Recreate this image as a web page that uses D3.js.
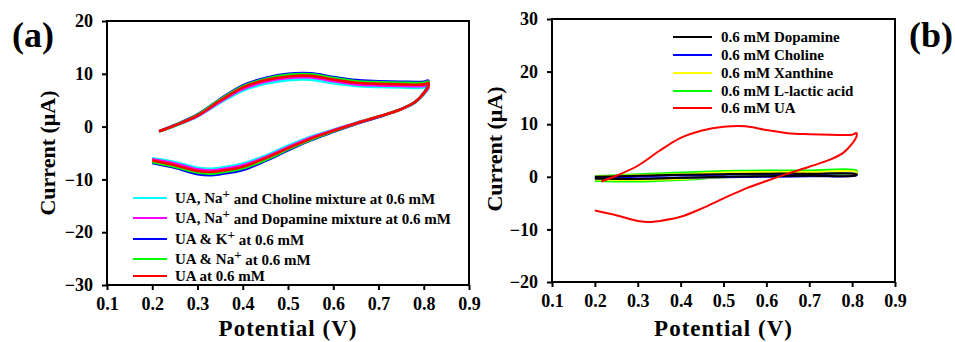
<!DOCTYPE html>
<html>
<head>
<meta charset="utf-8">
<script src="https://cdn.jsdelivr.net/npm/d3@7"></script>
<style>
  body { margin: 0; background: #fff; }
</style>
</head>
<body>
<script>
// Potenciais (V) das varreduras direta e reversa
const vFwd = [0.215, 0.25, 0.3, 0.35, 0.4, 0.45, 0.5, 0.55, 0.6, 0.65, 0.7, 0.75, 0.8, 0.81];
const vRev = [0.81, 0.8, 0.78, 0.75, 0.7, 0.65, 0.6, 0.55, 0.5, 0.45, 0.4, 0.35, 0.33, 0.3, 0.25, 0.2];

// Painel (a): corrente (uA)
const cholineMixFwd = [-0.9, 0.1, 1.9, 4.5, 6.8, 8.1, 8.8, 8.9, 8.2, 7.7, 7.5, 7.4, 7.4, 7.7];
const cholineMixRev = [7.2, 6.1, 4.5, 3.3, 1.9, 0.7, -0.6, -1.9, -3.6, -5.5, -7.0, -7.8, -8.0, -7.8, -6.7, -6.0];
const dopamineMixFwd = [-0.9, 0.2, 2.0, 4.7, 7.1, 8.5, 9.2, 9.3, 8.6, 8.0, 7.8, 7.7, 7.7, 8.0];
const dopamineMixRev = [7.4, 6.2, 4.6, 3.3, 1.9, 0.7, -0.7, -2.1, -3.9, -5.8, -7.3, -8.1, -8.3, -8.1, -7.0, -6.2];
const uaKFwd = [-0.9, 0.3, 2.3, 5.2, 7.8, 9.2, 10.0, 10.1, 9.4, 8.8, 8.6, 8.5, 8.5, 8.7];
const uaKRev = [8.0, 6.4, 4.6, 3.3, 1.8, 0.5, -1.0, -2.6, -4.5, -6.5, -8.2, -9.0, -9.2, -9.0, -7.8, -6.9];
const uaNaFwd = [-0.9, 0.2, 2.2, 5.1, 7.6, 9.0, 9.8, 9.9, 9.2, 8.6, 8.4, 8.3, 8.3, 8.5];
const uaNaRev = [7.8, 6.3, 4.6, 3.3, 1.9, 0.6, -0.9, -2.5, -4.3, -6.3, -7.9, -8.7, -8.9, -8.7, -7.6, -6.7];
const uaFwd = [-0.9, 0.2, 2.1, 4.9, 7.4, 8.8, 9.5, 9.6, 8.9, 8.3, 8.1, 8.0, 8.0, 8.3];
const uaRev = [7.6, 6.3, 4.6, 3.3, 1.9, 0.6, -0.8, -2.3, -4.1, -6.0, -7.6, -8.4, -8.6, -8.4, -7.3, -6.4];

// Painel (b): interferentes
const vFlatFwd = [0.2, 0.3, 0.4, 0.5, 0.6, 0.7, 0.81];
const vFlatRev = [0.81, 0.7, 0.6, 0.5, 0.4, 0.3, 0.2];
const dopamineFwd = [0.0, 0.2, 0.4, 0.5, 0.6, 0.6, 0.5];
const dopamineRev = [0.3, 0.2, 0.1, 0.0, -0.2, -0.4, -0.3];
const cholineFwd = [-0.1, 0.1, 0.3, 0.4, 0.5, 0.5, 0.5];
const cholineRev = [0.3, 0.1, 0.0, -0.1, -0.2, -0.3, -0.3];
const xanthineFwd = [0.0, 0.3, 0.5, 0.8, 0.9, 0.9, 0.9];
const xanthineRev = [0.5, 0.3, 0.1, -0.1, -0.4, -0.6, -0.5];
const lacticFwd = [0.1, 0.5, 0.8, 1.1, 1.2, 1.2, 1.2];
const lacticRev = [0.6, 0.5, 0.2, -0.1, -0.6, -0.9, -0.8];

const xTicks = [0.1, 0.2, 0.3, 0.4, 0.5, 0.6, 0.7, 0.8, 0.9];
const yTicksA = [-30, -20, -10, 0, 10, 20];
const yTicksB = [-20, -10, 0, 10, 20, 30];

const FONT = "'Liberation Serif', 'Times New Roman', Times, 'DejaVu Serif', serif";

const loop = (vf, f, vr, r) => vf.map((v, i) => [v, f[i]]).concat(vr.map((v, i) => [v, r[i]]));

const seriesA = [
  {name: ["UA, Na", "+", " and Choline mixture at 0.6 mM"], color: "#00ffff", pts: loop(vFwd, cholineMixFwd, vRev, cholineMixRev)},
  {name: ["UA, Na", "+", " and Dopamine mixture at 0.6 mM"], color: "#ff00ff", pts: loop(vFwd, dopamineMixFwd, vRev, dopamineMixRev)},
  {name: ["UA & K", "+", " at 0.6 mM"], color: "#0000ff", pts: loop(vFwd, uaKFwd, vRev, uaKRev)},
  {name: ["UA & Na", "+", " at 0.6 mM"], color: "#00ff00", pts: loop(vFwd, uaNaFwd, vRev, uaNaRev)},
  {name: ["UA at 0.6 mM"], color: "#ff0000", pts: loop(vFwd, uaFwd, vRev, uaRev)}
];
const seriesB = [
  {name: ["0.6 mM Dopamine"], color: "#000000", pts: loop(vFlatFwd, dopamineFwd, vFlatRev, dopamineRev)},
  {name: ["0.6 mM Choline"], color: "#0000ff", pts: loop(vFlatFwd, cholineFwd, vFlatRev, cholineRev)},
  {name: ["0.6 mM Xanthine"], color: "#ffff00", pts: loop(vFlatFwd, xanthineFwd, vFlatRev, xanthineRev)},
  {name: ["0.6 mM L-lactic acid"], color: "#00ff00", pts: loop(vFlatFwd, lacticFwd, vFlatRev, lacticRev)},
  {name: ["0.6 mM UA"], color: "#ff0000", pts: loop(vFwd, uaFwd, vRev, uaRev)}
];

const svg = d3.select("body").append("svg")
  .attr("width", 955)
  .attr("height", 342);

function styleText(sel, size) {
  return sel.attr("font-family", FONT).style("font-family", FONT)
    .style("font-weight", "bold").style("font-size", size + "px").attr("fill", "#000");
}

function drawPanel(p) {
  const x = d3.scaleLinear().domain([0.1, 0.9]).range([p.left, p.right]);
  const y = d3.scaleLinear().domain(p.yDomain).range([p.bottom, p.top]);
  const g = svg.append("g");

  // Eixos
  g.append("g")
    .attr("transform", "translate(0," + p.bottom + ")")
    .call(d3.axisBottom(x).tickValues(xTicks).tickFormat(d3.format(".1f")).tickSize(5).tickPadding(7))
    .call(a => a.select(".domain").remove())
    .call(a => a.selectAll("line").attr("stroke-width", 2))
    .call(a => styleText(a.selectAll("text"), 18));
  g.append("g")
    .attr("transform", "translate(" + p.left + ",0)")
    .call(d3.axisLeft(y).tickValues(p.yTicks).tickSize(5).tickPadding(9))
    .call(a => a.select(".domain").remove())
    .call(a => a.selectAll("line").attr("stroke-width", 2))
    .call(a => styleText(a.selectAll("text"), 18));

  g.append("rect")
    .attr("x", p.left).attr("y", p.top)
    .attr("width", p.right - p.left).attr("height", p.bottom - p.top)
    .attr("fill", "none").attr("stroke", "#000").attr("stroke-width", 2);

  // Curvas
  const line = d3.line().x(d => x(d[0])).y(d => y(d[1])).curve(d3.curveCatmullRom.alpha(0.5));
  g.selectAll(".cv")
    .data(p.series.map((s, i) => ({s, i})).sort((a, b) => p.order[a.i] - p.order[b.i]))
    .enter().append("path")
    .attr("fill", "none")
    .attr("stroke", d => d.s.color)
    .attr("stroke-width", p.lw)
    .attr("d", d => line(d.s.pts));

  // Legenda
  const leg = g.selectAll(".leg")
    .data(p.series)
    .enter().append("g")
    .attr("transform", (d, i) => "translate(" + p.legX + "," + p.legY[i] + ")");
  leg.append("line")
    .attr("x1", 0).attr("x2", p.legLen)
    .attr("stroke", d => d.color).attr("stroke-width", 2);
  const t = styleText(leg.append("text"), p.legFont)
    .attr("x", p.legText).attr("dy", "0.35em");
  t.each(function(d) {
    const el = d3.select(this);
    d.name.forEach((part, k) => {
      const ts = el.append("tspan").text(part);
      if (k === 1) ts.attr("dy", "-0.4em").style("font-size", (p.legFont - 2) + "px");
      if (k === 2) ts.attr("dy", "0.4em");
    });
  });

  // Titulos dos eixos
  styleText(g.append("text"), 23)
    .attr("x", (p.left + p.right) / 2).attr("y", 336)
    .attr("text-anchor", "middle")
    .style("letter-spacing", "1px")
    .text("Potential (V)");
  styleText(g.append("text"), 22)
    .attr("transform", "translate(" + p.yTitleX + "," + p.yTitleY + ") rotate(-90)")
    .attr("text-anchor", "middle")
    .text("Current (\u03bcA)");

  styleText(g.append("text"), 36)
    .attr("x", p.labX).attr("y", 47)
    .text(p.label);
}

drawPanel({
  left: 107, right: 469, top: 21, bottom: 285,
  yDomain: [-30, 20], yTicks: yTicksA, series: seriesA, order: [0, 1, 2, 3, 4], lw: 2.6,
  legX: 133, legY: [198, 218, 239, 259, 276], legLen: 34, legText: 42, legFont: 15,
  yTitleX: 55, yTitleY: 153, label: "(a)", labX: 12
});
drawPanel({
  left: 552, right: 895, top: 19, bottom: 282,
  yDomain: [-20, 30], yTicks: yTicksB, series: seriesB, order: [3, 2, 1, 0, 4], lw: 2,
  legX: 673, legY: [37, 55, 73, 91, 108], legLen: 39, legText: 48, legFont: 15,
  yTitleX: 502, yTitleY: 149, label: "(b)", labX: 909
});
</script>
</body>
</html>
